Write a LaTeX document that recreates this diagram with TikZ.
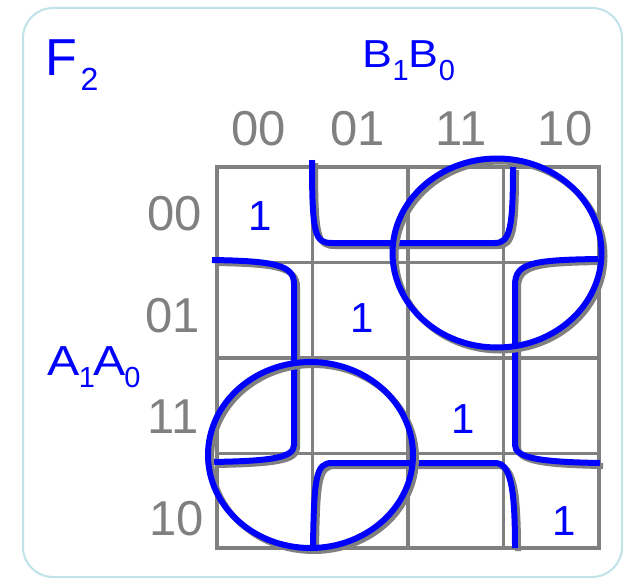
\documentclass[tikz,border=0pt]{standalone}
\usepackage{fontspec}
\setmainfont{Liberation Sans}
\newfontfamily\widefont[FakeStretch=1.15]{Liberation Sans}
\definecolor{framecol}{HTML}{BFE3E8}
\definecolor{gridgray}{HTML}{808080}
\newcommand\kmloop[1]{\draw[loopshadow,shift={(3,3)}] #1; \draw[loopline] #1;}
\begin{document}
\begin{tikzpicture}[x=1pt,y=-1pt,
  gridline/.style={draw=gridgray, line width=3.5pt, line cap=rect},
  loopline/.style={draw=blue, line width=6pt},
  loopshadow/.style={draw=gridgray, line width=6pt},
  axislabel/.style={text=gridgray, font=\fontsize{49}{49}\selectfont, inner sep=0pt},
  onecell/.style={text=blue, font=\fontsize{42}{42}\selectfont, inner sep=0pt, anchor=base},
  varpart/.style={text=blue, inner sep=0pt, anchor=base},
  subpart/.style={text=blue, inner sep=0pt, anchor=base, font=\fontsize{29}{29}\selectfont}]
\useasboundingbox (0,0) rectangle (623,578);
\draw[framecol, line width=2pt, rounded corners=30pt] (23,8) rectangle (622,577);
% grid
\foreach \x in {217,312.5,408,503.5,599} \draw[gridline] (\x,167) -- (\x,548);
\foreach \y in {167,262.5,358,453.5,548} \draw[gridline] (217,\y) -- (599,\y);
% column labels
\node[axislabel, anchor=base] (c00) at (259,145) {00};
\node[axislabel, anchor=base] (c01) at (358,145) {01};
\node[axislabel, anchor=base] (c11) at (461,145) {11};
\node[axislabel, anchor=base] (c10) at (565,145) {10};
% row labels
\node[axislabel, anchor=base east] (r00) at (202,230) {00};
\node[axislabel, anchor=base east] (r01) at (200,332) {01};
\node[axislabel, anchor=base east] (r11) at (199,433) {11};
\node[axislabel, anchor=base east] (r10) at (204,535) {10};
% ones
\node[onecell] (m0) at (260.5,230) {1};
\node[onecell] (m5) at (362.5,332) {1};
\node[onecell] (m15) at (463,433) {1};
\node[onecell] (m10) at (564,535) {1};
% F2
\node[varpart, font=\fontsize{52}{52}\selectfont] (fF) at (61.7,75) {F};
\node[subpart, font=\fontsize{32}{32}\selectfont] (f2) at (89.5,90) {2};
% B1B0
\node[varpart, font=\widefont\fontsize{39}{39}\selectfont] (bB1) at (377.5,67) {B};
\node[subpart] (b1) at (400.6,81) {1};
\node[varpart, font=\widefont\fontsize{39}{39}\selectfont] (bB0) at (423.7,67) {B};
\node[subpart] (b0) at (447,81) {0};
% A1A0
\node[varpart, font=\widefont\fontsize{42}{42}\selectfont] (aA1) at (64,375) {A};
\node[subpart] (a1) at (87,387) {1};
\node[varpart, font=\widefont\fontsize{42}{42}\selectfont] (aA0) at (110,375) {A};
\node[subpart] (a0) at (132.5,387) {0};
% groups
\kmloop{(312,160) .. controls (312,236) and (315,243) .. (332,243) -- (495,243) .. controls (510,243) and (513,228) .. (513,167)}
\kmloop{(212,260) .. controls (275,261) and (294,265) .. (294,284) -- (294,445) .. controls (294,458) and (270,461) .. (212,462)}
\kmloop{(598,259) .. controls (532,260) and (515,263) .. (515,285) -- (515,445) .. controls (515,458) and (540,462) .. (600,463)}
\kmloop{(313,548) .. controls (314,476) and (316,463) .. (332,463) -- (495,463) .. controls (510,463) and (515,485) .. (515,548)}
\kmloop{(497,253) ellipse [x radius=104.5, y radius=94.5]}
\kmloop{(310.5,455) ellipse [x radius=102.5, y radius=93]}
\end{tikzpicture}
\end{document}
